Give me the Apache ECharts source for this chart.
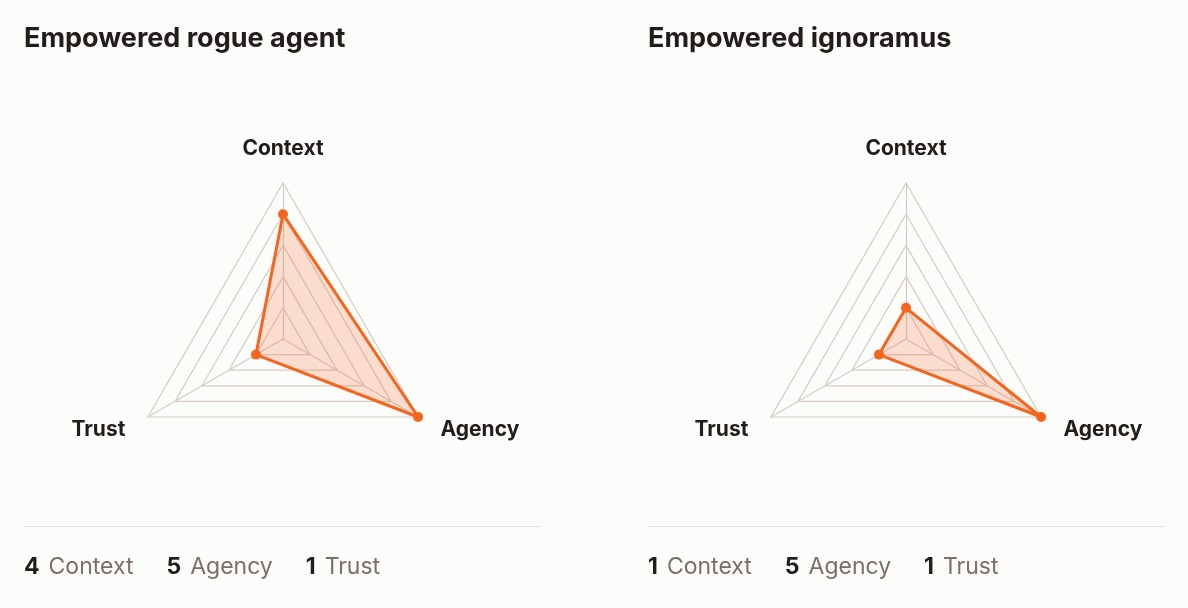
<!DOCTYPE html>
<html>
<head>
<meta charset="utf-8">
<script src="https://cdn.jsdelivr.net/npm/echarts@6/dist/echarts.min.js"></script>
<style>
  html, body { margin: 0; padding: 0; background: #fcfcfb; }
  #main { width: 1188px; height: 608px; }
</style>
</head>
<body>
<div id="main"></div>
<script>
var axes = ['Context', 'Agency', 'Trust']
var maxScore = 5
var titles = ['Empowered rogue agent', 'Empowered ignoramus']
var rogueScores = [4, 5, 1]
var ignoramusScores = [1, 5, 1]

// radar goes counter-clockwise, so list the axes Context, Trust, Agency
var radarOrder = [0, 2, 1]

var chart = echarts.init(document.getElementById('main'))
var orange = '#f4661e'
var grid = '#d5ccc4'
var font = 'Inter, "Noto Sans", sans-serif'

var makeRadar = function(cx) {
  return {
    center: [cx, 339],
    radius: 156,
    startAngle: 90,
    splitNumber: 5,
    shape: 'polygon',
    nameGap: 26,
    indicator: radarOrder.map(function(k) { return { name: axes[k], max: maxScore, min: 0 } }),
    axisName: { color: '#221d1a', fontSize: 21, fontWeight: 'bold', fontFamily: font, padding: [0, 0, -2, 0] },
    axisLine: { lineStyle: { color: grid, width: 1.2 } },
    splitLine: { lineStyle: { color: grid, width: 1.2 } },
    splitArea: { show: false }
  }
}

// bottom stats line, e.g. "4 Context   5 Agency   1 Trust"
var statsText = function(scores) {
  return axes.map(function(a, i) {
    return '{n|' + scores[i] + '}{l|' + a + '}'
  }).join('')
}
var statsRich = {
  n: { fontSize: 23, fontWeight: 'bold', fill: '#221d1a', fontFamily: font, padding: [0, 9, 0, 0] },
  l: { fontSize: 23, fill: '#7a6f68', fontFamily: font, padding: [0, 33, 0, 0] }
}

var panels = [
  { x: 24, cx: 283, scores: rogueScores },
  { x: 648, cx: 906, scores: ignoramusScores }
]

var graphic = []
panels.forEach(function(p, i) {
  graphic.push({
    type: 'text', left: p.x, top: 25,
    style: { text: titles[i], fill: '#221d1a', font: 'bold 27px ' + font }
  })
  graphic.push({
    type: 'line',
    shape: { x1: p.x, y1: 526.5, x2: p.x + 517, y2: 526.5 },
    style: { stroke: '#e6e2de', lineWidth: 1 }
  })
  graphic.push({
    type: 'text', left: p.x, top: 556,
    style: { text: statsText(p.scores), rich: statsRich }
  })
})

var option = {
  backgroundColor: '#fcfcfb',
  radar: panels.map(function(p) { return makeRadar(p.cx) }),
  graphic: graphic,
  series: panels.map(function(p, i) {
    return {
      type: 'radar',
      radarIndex: i,
      symbol: 'circle',
      symbolSize: 10,
      itemStyle: { color: orange },
      lineStyle: { color: orange, width: 3 },
      areaStyle: { color: orange, opacity: 0.2 },
      data: [{ value: radarOrder.map(function(k) { return p.scores[k] }), name: titles[i] }]
    }
  })
}
chart.setOption(option)
</script>
</body>
</html>
